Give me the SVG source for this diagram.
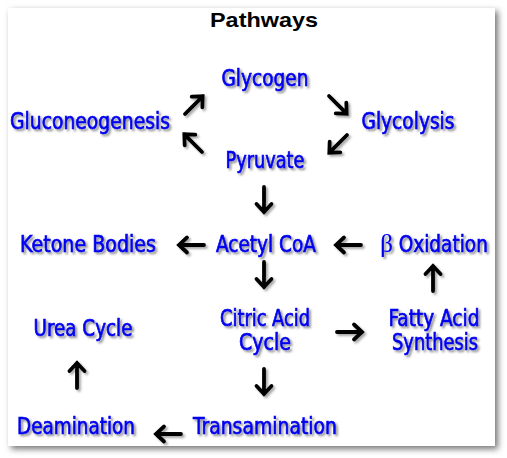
<svg xmlns="http://www.w3.org/2000/svg" xmlns:xlink="http://www.w3.org/1999/xlink" width="507" height="458" viewBox="0 0 507 458">
<defs>
<style>
.t{font-family:"DejaVu Sans Condensed","Liberation Sans",sans-serif;font-size:23px;fill:#0000f0;stroke:#0000f0;stroke-width:0.7;text-anchor:middle;filter:url(#ts)}
.b{font-family:"Liberation Serif",serif;stroke-width:0.2}
.a{fill:none;stroke:#000;stroke-width:3.8;stroke-linecap:round;stroke-linejoin:miter}
.ttl{font-family:"Liberation Sans",Arial,sans-serif;font-weight:bold;font-size:21px;fill:#000;text-anchor:middle}
</style>
<filter id="ts" x="-10%" y="-30%" width="130%" height="180%">
<feDropShadow dx="2" dy="2" stdDeviation="1.3" flood-color="#404040" flood-opacity="0.6"/>
</filter>
<filter id="as" x="-50%" y="-50%" width="200%" height="200%">
<feDropShadow dx="2" dy="2" stdDeviation="1.2" flood-color="#404040" flood-opacity="0.45"/>
</filter>
<filter id="bs" x="-5%" y="-5%" width="110%" height="110%">
<feDropShadow dx="3" dy="3" stdDeviation="3" flood-color="#000" flood-opacity="0.55"/>
</filter>
<g id="arr"><path class="a" d="M0 0H25M17 -7.5L25 0L17 7.5"/></g>
</defs>
<rect width="507" height="458" fill="#fff"/>
<rect x="8" y="8" width="487" height="438" fill="#fff" filter="url(#bs)"/>
<text class="ttl" x="264" y="27" textLength="108" lengthAdjust="spacingAndGlyphs">Pathways</text>
<g id="connectors" filter="url(#as)">
<use xlink:href="#arr" transform="translate(185,114) rotate(-45)"/>
<use xlink:href="#arr" transform="translate(329,96) rotate(45)"/>
<use xlink:href="#arr" transform="translate(347,135) rotate(135)"/>
<use xlink:href="#arr" transform="translate(202,152) rotate(-135)"/>
<use xlink:href="#arr" transform="translate(264,187) rotate(90)"/>
<use xlink:href="#arr" transform="translate(204,245) rotate(180)"/>
<use xlink:href="#arr" transform="translate(361,245) rotate(180)"/>
<use xlink:href="#arr" transform="translate(264,262) rotate(90)"/>
<use xlink:href="#arr" transform="translate(433,291) rotate(-90)"/>
<use xlink:href="#arr" transform="translate(337,332)"/>
<use xlink:href="#arr" transform="translate(264,369) rotate(90)"/>
<use xlink:href="#arr" transform="translate(77,388) rotate(-90)"/>
<use xlink:href="#arr" transform="translate(181,434) rotate(180)"/>
</g>
<g id="glycogen"><text class="t" x="265" y="86" textLength="87" lengthAdjust="spacingAndGlyphs">Glycogen</text></g>
<g id="gluconeogenesis"><text class="t" x="90" y="129" textLength="160" lengthAdjust="spacingAndGlyphs">Gluconeogenesis</text></g>
<g id="glycolysis"><text class="t" x="408" y="129" textLength="93" lengthAdjust="spacingAndGlyphs">Glycolysis</text></g>
<g id="pyruvate"><text class="t" x="265" y="168" textLength="79" lengthAdjust="spacingAndGlyphs">Pyruvate</text></g>
<g id="ketone"><text class="t" x="88" y="252" textLength="136" lengthAdjust="spacingAndGlyphs">Ketone Bodies</text></g>
<g id="acetyl"><text class="t" x="266" y="252" textLength="100" lengthAdjust="spacingAndGlyphs">Acetyl CoA</text></g>
<g id="betaox"><text class="t" x="434" y="252"><tspan class="b" font-size="25">β</tspan><tspan textLength="95" lengthAdjust="spacingAndGlyphs"> Oxidation</tspan></text></g>
<g id="citric"><text class="t" x="265" y="326" textLength="90" lengthAdjust="spacingAndGlyphs">Citric Acid</text><text class="t" x="265" y="350" textLength="52" lengthAdjust="spacingAndGlyphs">Cycle</text></g>
<g id="fatty"><text class="t" x="434" y="326" textLength="91" lengthAdjust="spacingAndGlyphs">Fatty Acid</text><text class="t" x="435" y="350" textLength="86" lengthAdjust="spacingAndGlyphs">Synthesis</text></g>
<g id="urea"><text class="t" x="83" y="336" textLength="99" lengthAdjust="spacingAndGlyphs">Urea Cycle</text></g>
<g id="deamination"><text class="t" x="76" y="434" textLength="118" lengthAdjust="spacingAndGlyphs">Deamination</text></g>
<g id="transamination"><text class="t" x="265" y="434" textLength="144" lengthAdjust="spacingAndGlyphs">Transamination</text></g>
</svg>
